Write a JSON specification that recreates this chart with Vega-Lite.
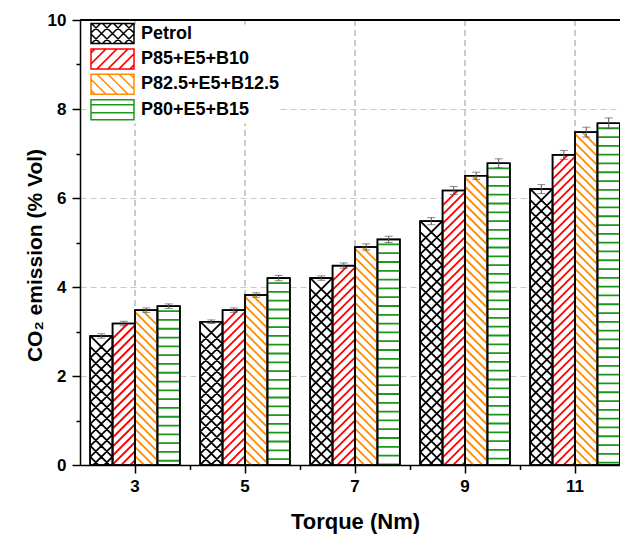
{
  "$schema": "https://vega.github.io/schema/vega-lite/v6.json",
  "width": 540,
  "height": 445,
  "autosize": {"type": "none"},
  "padding": {"left": 80, "top": 20, "right": 0, "bottom": 69},
  "background": "white",
  "config": {"view": {"stroke": null}, "font": "Liberation Sans"},
  "data": {"values": [
    {"Torque": 3, "Fuel": "Petrol", "value": 2.9, "lo": 2.85, "hi": 2.95},
    {"Torque": 3, "Fuel": "P85+E5+B10", "value": 3.18, "lo": 3.13, "hi": 3.23},
    {"Torque": 3, "Fuel": "P82.5+E5+B12.5", "value": 3.48, "lo": 3.43, "hi": 3.53},
    {"Torque": 3, "Fuel": "P80+E5+B15", "value": 3.57, "lo": 3.52, "hi": 3.62},
    {"Torque": 5, "Fuel": "Petrol", "value": 3.22, "lo": 3.18, "hi": 3.26},
    {"Torque": 5, "Fuel": "P85+E5+B10", "value": 3.48, "lo": 3.43, "hi": 3.53},
    {"Torque": 5, "Fuel": "P82.5+E5+B12.5", "value": 3.82, "lo": 3.77, "hi": 3.87},
    {"Torque": 5, "Fuel": "P80+E5+B15", "value": 4.2, "lo": 4.14, "hi": 4.26},
    {"Torque": 7, "Fuel": "Petrol", "value": 4.2, "lo": 4.15, "hi": 4.25},
    {"Torque": 7, "Fuel": "P85+E5+B10", "value": 4.48, "lo": 4.42, "hi": 4.54},
    {"Torque": 7, "Fuel": "P82.5+E5+B12.5", "value": 4.9, "lo": 4.83, "hi": 4.97},
    {"Torque": 7, "Fuel": "P80+E5+B15", "value": 5.07, "lo": 5.0, "hi": 5.14},
    {"Torque": 9, "Fuel": "Petrol", "value": 5.48, "lo": 5.4, "hi": 5.56},
    {"Torque": 9, "Fuel": "P85+E5+B10", "value": 6.17, "lo": 6.08, "hi": 6.26},
    {"Torque": 9, "Fuel": "P82.5+E5+B12.5", "value": 6.5, "lo": 6.42, "hi": 6.58},
    {"Torque": 9, "Fuel": "P80+E5+B15", "value": 6.78, "lo": 6.68, "hi": 6.88},
    {"Torque": 11, "Fuel": "Petrol", "value": 6.2, "lo": 6.1, "hi": 6.3},
    {"Torque": 11, "Fuel": "P85+E5+B10", "value": 6.97, "lo": 6.87, "hi": 7.07},
    {"Torque": 11, "Fuel": "P82.5+E5+B12.5", "value": 7.48, "lo": 7.37, "hi": 7.59},
    {"Torque": 11, "Fuel": "P80+E5+B15", "value": 7.68, "lo": 7.56, "hi": 7.8}
  ]},
  "resolve": {"scale": {"x": "independent"}, "axis": {"x": "independent"}},
  "layer": [
    {
      "mark": {"type": "rule", "color": "#c8c8c8", "strokeWidth": 1, "strokeDash": [6, 4]},
      "encoding": {
        "x": {"field": "Torque", "type": "ordinal", "scale": {"range": [0, 550], "paddingInner": 0, "paddingOuter": 0}, "axis": null}
      }
    },
    {
      "encoding": {
        "x": {
          "field": "Torque", "type": "ordinal",
          "scale": {"range": [0, 550], "paddingInner": 0, "paddingOuter": 0},
          "axis": {
            "orient": "bottom",
            "title": "Torque (Nm)", "labelAngle": 0, "labelFontSize": 17, "labelFontWeight": "bold", "labelColor": "black", "labelPadding": 5,
            "tickSize": 8, "tickColor": "black", "tickWidth": 1.5, "domainColor": "black", "domainWidth": 1.5, "grid": false,
            "titleFontSize": 22, "titleFontWeight": "bold", "titleColor": "black", "titleX": 275, "titleY": 63, "titleBaseline": "alphabetic"
          }
        },
        "xOffset": {
          "field": "Fuel", "type": "nominal", "sort": null,
          "scale": {"domain": ["Petrol", "P85+E5+B10", "P82.5+E5+B12.5", "P80+E5+B15"], "paddingInner": 0, "paddingOuter": 0.45}
        }
      },
      "layer": [
        {
          "mark": {"type": "bar", "fill": "white", "stroke": "black", "strokeWidth": 1.5},
          "encoding": {
            "y": {
              "field": "value", "type": "quantitative", "title": "CO₂ emission (% Vol)",
              "scale": {"domain": [0, 10], "nice": false},
              "axis": {
                "values": [0, 1, 2, 3, 4, 5, 6, 7, 8, 9, 10],
                "labelExpr": "datum.value % 2 ? '' : datum.label",
                "labelFontSize": 17, "labelFontWeight": "bold", "labelColor": "black", "labelPadding": 6,
                "tickSize": {"condition": {"test": "datum.value % 2", "value": 4}, "value": 8},
                "tickColor": "black", "tickWidth": 1.5, "domainColor": "black", "domainWidth": 1.5,
                "grid": true, "gridColor": "#c8c8c8", "gridDash": [6, 4], "gridWidth": 1,
                "gridOpacity": {"condition": {"test": "datum.value % 2 || datum.value == 0 || datum.value == 10", "value": 0}, "value": 1},
                "titleFontSize": 21, "titleFontWeight": "bold", "titleColor": "black", "titleX": -45, "titleY": 235, "titleBaseline": "middle"
              }
            }
          }
        },
        {
          "mark": {"type": "point", "filled": false, "size": 4, "strokeWidth": 1.8, "opacity": 1, "clip": true},
          "encoding": {
            "y": {"field": "value", "type": "quantitative", "title": "CO₂ emission (% Vol)"},
            "shape": {
              "condition": [
                {"test": "datum.Fuel === 'Petrol'", "value": "M-11,22L11,0m-22,33l22,-22m-22,33l22,-22m-22,33l22,-22m-22,33l22,-22m-22,33l22,-22m-22,33l22,-22m-22,33l22,-22m-22,33l22,-22m-22,33l22,-22m-22,33l22,-22m-22,33l22,-22m-22,33l22,-22m-22,33l22,-22m-22,33l22,-22m-22,33l22,-22m-22,33l22,-22m-22,33l22,-22m-22,33l22,-22m-22,33l22,-22m-22,33l22,-22m-22,33l22,-22m-22,33l22,-22m-22,33l22,-22m-22,33l22,-22m-22,33l22,-22m-22,33l22,-22m-22,33l22,-22m-22,33l22,-22m-22,33l22,-22m-22,33l22,-22M-11,0L11,22m-22,-11l22,22m-22,-11l22,22m-22,-11l22,22m-22,-11l22,22m-22,-11l22,22m-22,-11l22,22m-22,-11l22,22m-22,-11l22,22m-22,-11l22,22m-22,-11l22,22m-22,-11l22,22m-22,-11l22,22m-22,-11l22,22m-22,-11l22,22m-22,-11l22,22m-22,-11l22,22m-22,-11l22,22m-22,-11l22,22m-22,-11l22,22m-22,-11l22,22m-22,-11l22,22m-22,-11l22,22m-22,-11l22,22m-22,-11l22,22m-22,-11l22,22m-22,-11l22,22m-22,-11l22,22m-22,-11l22,22m-22,-11l22,22m-22,-11l22,22"},
                {"test": "datum.Fuel === 'P85+E5+B10'", "value": "M-11,15L4,0m-15,24l22,-22m-22,31l22,-22m-22,31l22,-22m-22,31l22,-22m-22,31l22,-22m-22,31l22,-22m-22,31l22,-22m-22,31l22,-22m-22,31l22,-22m-22,31l22,-22m-22,31l22,-22m-22,31l22,-22m-22,31l22,-22m-22,31l22,-22m-22,31l22,-22m-22,31l22,-22m-22,31l22,-22m-22,31l22,-22m-22,31l22,-22m-22,31l22,-22m-22,31l22,-22m-22,31l22,-22m-22,31l22,-22m-22,31l22,-22m-22,31l22,-22m-22,31l22,-22m-22,31l22,-22m-22,31l22,-22m-22,31l22,-22m-22,31l22,-22m-22,31l22,-22m-22,31l22,-22m-22,31l22,-22m-22,31l22,-22m-22,31l22,-22m-22,31l22,-22m-22,31l22,-22m-22,31l22,-22m-22,31l22,-22m-22,31l22,-22"},
                {"test": "datum.Fuel === 'P82.5+E5+B12.5'", "value": "M-4,0L11,15m-22,-13l22,22m-22,-13l22,22m-22,-13l22,22m-22,-13l22,22m-22,-13l22,22m-22,-13l22,22m-22,-13l22,22m-22,-13l22,22m-22,-13l22,22m-22,-13l22,22m-22,-13l22,22m-22,-13l22,22m-22,-13l22,22m-22,-13l22,22m-22,-13l22,22m-22,-13l22,22m-22,-13l22,22m-22,-13l22,22m-22,-13l22,22m-22,-13l22,22m-22,-13l22,22m-22,-13l22,22m-22,-13l22,22m-22,-13l22,22m-22,-13l22,22m-22,-13l22,22m-22,-13l22,22m-22,-13l22,22m-22,-13l22,22m-22,-13l22,22m-22,-13l22,22m-22,-13l22,22m-22,-13l22,22m-22,-13l22,22m-22,-13l22,22m-22,-13l22,22m-22,-13l22,22m-22,-13l22,22m-22,-13l22,22m-22,-13l22,22"}
              ],
              "value": "M-11,5h22m-22,8.8h22m-22,8.8h22m-22,8.8h22m-22,8.8h22m-22,8.8h22m-22,8.8h22m-22,8.8h22m-22,8.8h22m-22,8.8h22m-22,8.8h22m-22,8.8h22m-22,8.8h22m-22,8.8h22m-22,8.8h22m-22,8.8h22m-22,8.8h22m-22,8.8h22m-22,8.8h22m-22,8.8h22m-22,8.8h22m-22,8.8h22m-22,8.8h22m-22,8.8h22m-22,8.8h22m-22,8.8h22m-22,8.8h22m-22,8.8h22m-22,8.8h22m-22,8.8h22m-22,8.8h22m-22,8.8h22m-22,8.8h22m-22,8.8h22m-22,8.8h22m-22,8.8h22m-22,8.8h22m-22,8.8h22m-22,8.8h22m-22,8.8h22m-22,8.8h22"
            },
            "stroke": {
              "condition": [
                {"test": "datum.Fuel === 'Petrol'", "value": "#000000"},
                {"test": "datum.Fuel === 'P85+E5+B10'", "value": "#ff0000"},
                {"test": "datum.Fuel === 'P82.5+E5+B12.5'", "value": "#ff8c00"}
              ],
              "value": "#1a9a1a"
            }
          }
        },
        {
          "mark": {"type": "bar", "fillOpacity": 0, "stroke": "black", "strokeWidth": 1.6},
          "encoding": {"y": {"field": "value", "type": "quantitative", "title": "CO₂ emission (% Vol)"}}
        },
        {
          "mark": {"type": "rule", "color": "#555555", "strokeWidth": 1},
          "encoding": {"y": {"field": "lo", "type": "quantitative", "title": "CO₂ emission (% Vol)"}, "y2": {"field": "hi"}}
        },
        {
          "mark": {"type": "tick", "color": "#555555", "thickness": 1, "size": 8},
          "encoding": {"y": {"field": "lo", "type": "quantitative", "title": "CO₂ emission (% Vol)"}}
        },
        {
          "mark": {"type": "tick", "color": "#555555", "thickness": 1, "size": 8},
          "encoding": {"y": {"field": "hi", "type": "quantitative", "title": "CO₂ emission (% Vol)"}}
        },
        {
          "transform": [{"filter": "false"}],
          "mark": {"type": "point", "filled": true, "fill": "white", "size": 4, "strokeWidth": 1.5, "opacity": 1},
          "encoding": {
            "y": {"field": "value", "type": "quantitative", "title": "CO₂ emission (% Vol)"},
            "shape": {
              "field": "Fuel", "type": "nominal",
              "scale": {
                "domain": ["Petrol", "P85+E5+B10", "P82.5+E5+B12.5", "P80+E5+B15"],
                "range": [
                  "M-21.5,-10H21.5V10H-21.5ZM-21.5,-0.5L-12,-10M-21,10L-1,-10M-10,10L10,-10M1,10L21,-10M12,10L21.5,0.5M-10,-10L10,10M-21,-10L-1,10M-21.5,0.5L-12,10M1,-10L21,10M12,-10L21.5,-0.5",
                  "M-21.5,-10H21.5V10H-21.5ZM-21.5,-6L-17.5,-10M-21.5,5L-6.5,-10M-15.5,10L4.5,-10M-4.5,10L15.5,-10M6.5,10L21.5,-5M17.5,10L21.5,6",
                  "M-21.5,-10H21.5V10H-21.5ZM21.5,-6L17.5,-10M21.5,5L6.5,-10M15.5,10L-4.5,-10M4.5,10L-15.5,-10M-6.5,10L-21.5,-5M-17.5,10L-21.5,6",
                  "M-21.5,-10H21.5V10H-21.5ZM-21.5,-5H21.5M-21.5,3H21.5"
                ]
              },
              "legend": {
                "orient": "none", "legendX": 23.5, "legendY": 4.5, "title": null, "padding": 0, "fillColor": "white",
                "symbolSize": 4, "symbolStrokeWidth": 1.5, "labelOffset": 19.5, "rowPadding": -0.6,
                "labelFont": "Liberation Sans", "labelFontWeight": "bold", "labelFontSize": 18, "labelColor": "black",
                "encode": {
                  "symbols": {
                    "strokeWidth": {"value": 1.5},
                    "opacity": {"value": 1},
                    "fill": {"value": "white"},
                    "fillOpacity": {"value": 1}
                  }
                }
              }
            },
            "stroke": {
              "field": "Fuel", "type": "nominal",
              "scale": {"domain": ["Petrol", "P85+E5+B10", "P82.5+E5+B12.5", "P80+E5+B15"], "range": ["#000000", "#ff0000", "#ff8c00", "#1a9a1a"]}
            }
          }
        }
      ]
    },
    {
      "mark": {"type": "rule", "color": "black", "strokeWidth": 1.5},
      "encoding": {"y": {"datum": 10, "type": "quantitative"}}
    },
    {
      "mark": {"type": "rule", "opacity": 0},
      "encoding": {
        "x": {
          "datum": 4, "type": "quantitative",
          "scale": {"domain": [2, 12], "range": [0, 550], "nice": false, "zero": false},
          "axis": {"orient": "bottom", "values": [4, 6, 8, 10], "labels": false, "domain": false, "grid": false, "title": null, "tickSize": 4.5, "tickColor": "black", "tickWidth": 1.5}
        }
      }
    }
  ]
}
